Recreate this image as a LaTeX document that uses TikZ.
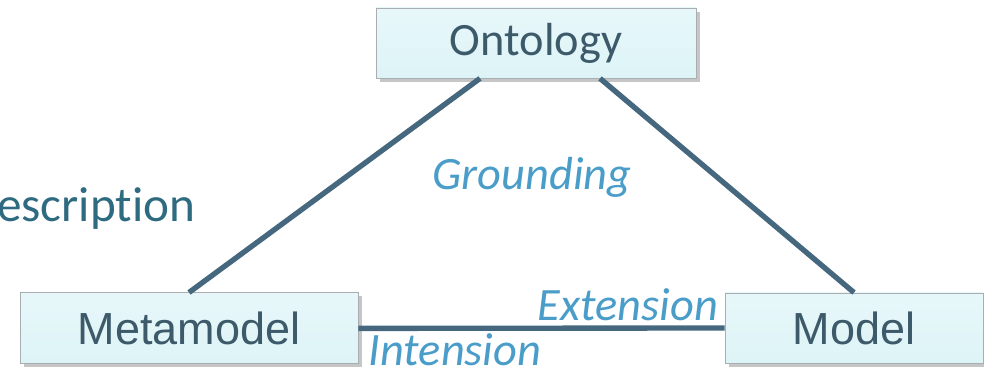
\documentclass[tikz,border=0pt]{standalone}
\usepackage{fontspec}
\setmainfont[Ligatures=NoCommon]{Carlito}
\newfontfamily\arialfont{Liberation Sans}
\usetikzlibrary{shadows}

\definecolor{boxfill}{HTML}{DDF4F7}
\definecolor{boxline}{HTML}{A8AEB2}
\definecolor{edge}{HTML}{46687F}
\definecolor{boxtext}{HTML}{3D5A6B}
\definecolor{desctext}{HTML}{2E6A80}
\definecolor{lbltext}{HTML}{4A9DC9}

\begin{document}
\begin{tikzpicture}[
    concept/.style={rectangle,draw=boxline,line width=0.6pt,
      top color=boxfill!70!white,bottom color=boxfill,
      drop shadow={shadow xshift=2.5pt,shadow yshift=-2.5pt,opacity=.45},
      text=boxtext,font=\fontsize{32}{38}\selectfont},
    link/.style={edge,line width=3.8pt},
    lbl/.style={text=lbltext,font=\fontsize{33}{40}\selectfont\itshape,inner sep=0pt}]
  \useasboundingbox (0,0) rectangle (24.6,9.25);

  \node[concept,minimum width=8cm,minimum height=1.75cm,font=\fontsize{33}{38}\selectfont]
    (ontology) at (13.4,8.175) {Ontology};
  \node[concept,minimum width=8.45cm,minimum height=1.775cm,font=\fontsize{32}{38}\selectfont\arialfont]
    (metamodel) at (4.725,1.04) {Metamodel};
  \node[concept,minimum width=6.45cm,minimum height=1.75cm,font=\fontsize{32}{38}\selectfont\arialfont]
    (model) at (21.35,1.05) {Model};

  \draw[link] ([xshift=-1.4cm]ontology.south) -- (metamodel.north);
  \draw[link] ([xshift=1.6cm]ontology.south) -- (model.north);
  \draw[link] (metamodel.east) -- (model.west);

  \node[lbl] (grounding) at (13.3,4.82) {Grounding};
  \node[lbl] (extension) at (15.7,1.62) {Extension};
  \node[lbl] (intension) at (11.375,0.5) {Intension};

  % cut-off side text
  \node[anchor=base west,inner sep=0pt,text=desctext,font=\fontsize{35}{40}\selectfont]
    (desc) at (-0.08,3.7) {escription};
\end{tikzpicture}
\end{document}
